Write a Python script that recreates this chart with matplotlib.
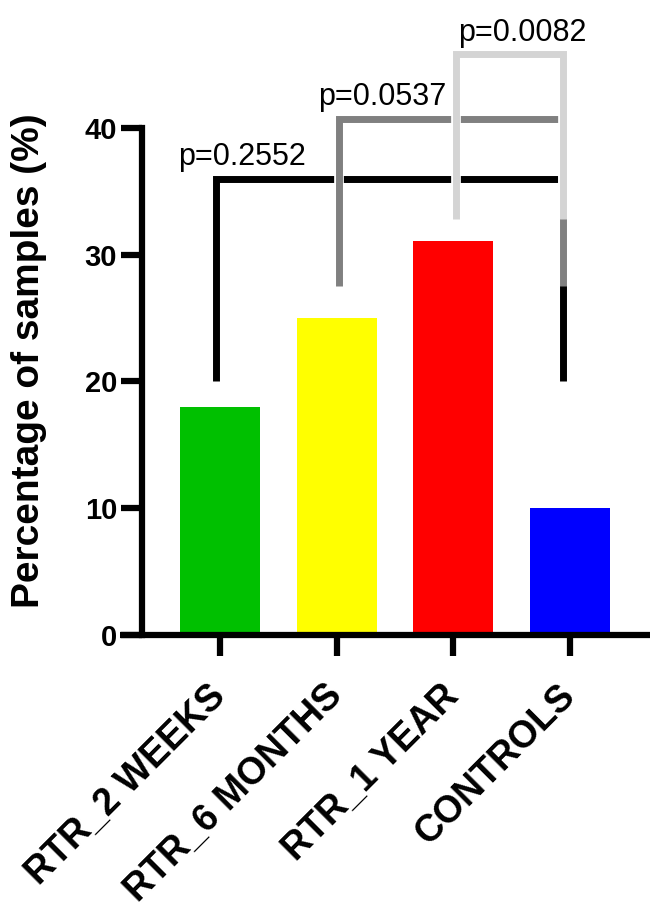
import matplotlib
matplotlib.use("Agg")
import matplotlib.pyplot as plt
import matplotlib.patheffects as pe
import numpy as np

plt.rcParams['font.family'] = ['Liberation Sans', 'DejaVu Sans']

# data
groups = ['RTR_2 WEEKS', 'RTR_6 MONTHS', 'RTR_1 YEAR', 'CONTROLS']
percent = [18.0, 25.0, 31.1, 10.0]
bar_colors = ['#00C000', '#FFFF00', '#FF0000', '#0000FF']

# significance brackets: (left group, right group)
pairs = [(0, 3), (1, 3), (2, 3)]
p_labels = ['p=0.2552', 'p=0.0537', 'p=0.0082']
bracket_top = [36.0, 40.7, 45.8]
leg_bottom = [20.0, 27.5, 32.8]
bracket_colors = ['#000000', '#808080', '#D4D4D4']

fig = plt.figure(figsize=(6.64, 9.13), dpi=100)
ax = fig.add_axes([120 / 664, 1 - 635 / 913, 530 / 664, 507 / 913])

x = np.arange(len(groups))
ax.bar(x, percent, width=0.686, color=bar_colors, zorder=2)

ax.set_xlim(-0.857, 3.686)
ax.set_ylim(0, 40)
ax.set_yticks([0, 10, 20, 30, 40])

for s in ['top', 'right']:
    ax.spines[s].set_visible(False)
ax.spines['left'].set_position(('data', -0.668))
ax.spines['left'].set_bounds(0, 40)
ax.spines['left'].set_linewidth(4.5)
ax.spines['bottom'].set_linewidth(4.5)
ax.spines['bottom'].set_capstyle('butt')

ax.tick_params(axis='both', length=15, width=4.5, direction='out')
ax.tick_params(axis='y', labelsize=21, pad=3)
ax.tick_params(axis='x', pad=25)
for lab in ax.get_yticklabels():
    lab.set_fontweight('bold')

ax.set_xticks(x)
ax.set_xticklabels(groups, rotation=45, ha='right', va='center',
                   rotation_mode='anchor', fontsize=27, fontweight='bold')

ax.set_ylabel('Percentage of samples (%)', fontsize=28, fontweight='bold')
ax.yaxis.set_label_coords(-0.138, 0.542)

# brackets, later ones drawn on top
text_x = [0.19, 1.39, 2.59]
for k, (i, j) in enumerate(pairs):
    x1 = i - 0.03 if i == 0 else i + 0.02
    x2 = j - 0.06
    ax.plot([x1, x1, x2, x2], [leg_bottom[k], bracket_top[k], bracket_top[k], leg_bottom[k]],
            color=bracket_colors[k], lw=5, solid_joinstyle='miter', solid_capstyle='butt',
            clip_on=False, zorder=3 + k,
            path_effects=[pe.Stroke(linewidth=7, foreground='white'), pe.Normal()])
    ax.text(text_x[k], bracket_top[k] + 1.1, p_labels[k], ha='center', va='baseline',
            fontsize=22, clip_on=False, zorder=6)

fig.savefig('out.png', dpi=100)
